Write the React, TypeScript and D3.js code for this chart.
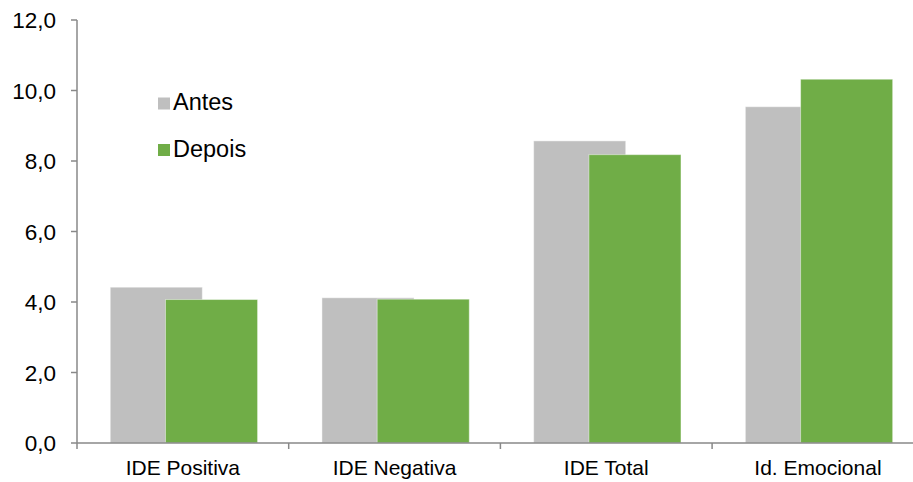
import React from "react";
import * as d3 from "d3";

const categories = ["IDE Positiva", "IDE Negativa", "IDE Total", "Id. Emocional"];
const antes = [4.42, 4.12, 8.57, 9.54];
const depois = [4.07, 4.08, 8.18, 10.32];
const yTicks = [0, 2, 4, 6, 8, 10, 12];
const seriesNames = ["Antes", "Depois"];
const seriesColors = ["#BFBFBF", "#70AD47"];

const W = 913;
const H = 482;
const FONT = "'Liberation Sans', Arial, sans-serif";

export default function App() {
  const x = d3.scaleBand<string>().domain(categories).range([77, 923.8]).padding(0);
  const y = d3.scaleLinear().domain([0, 12]).range([443, 20]);
  const bw = x.bandwidth();
  const barW = bw * 0.435;
  const offsets = [0.157, 0.418];
  const series = [antes, depois];
  const axisColor = "#888888";

  return (
    <svg
      width={W}
      height={H}
      style={{ position: "fixed", left: 0, top: 0, background: "#fff" }}
      fontFamily={FONT}
    >
      {series.map((vals, si) => (
        <g key={si}>
          {categories.map((c, i) => (
            <rect
              key={c}
              x={(x(c) ?? 0) + bw * offsets[si]}
              y={y(vals[i])}
              width={barW}
              height={y(0) - y(vals[i])}
              fill={seriesColors[si]}
              stroke="#ffffff"
              strokeOpacity={0.45}
              strokeWidth={1}
            />
          ))}
        </g>
      ))}

      {/* y axis */}
      <line x1={77} x2={77} y1={y(12)} y2={y(0)} stroke={axisColor} strokeWidth={1.5} />
      {yTicks.map((t) => (
        <g key={t}>
          <line x1={71} x2={77} y1={y(t)} y2={y(t)} stroke={axisColor} strokeWidth={1.5} />
          <text
            x={56}
            y={y(t)}
            dy="0.36em"
            textAnchor="end"
            fontSize={22.5}
            fill="#000"
          >
            {d3.format(".1f")(t).replace(".", ",")}
          </text>
        </g>
      ))}

      {/* x axis */}
      <line x1={77} x2={W} y1={y(0)} y2={y(0)} stroke={axisColor} strokeWidth={1.5} />
      {categories.map((c) => (
        <line
          key={c}
          x1={x(c) ?? 0}
          x2={x(c) ?? 0}
          y1={y(0)}
          y2={y(0) + 6}
          stroke={axisColor}
          strokeWidth={1.5}
        />
      ))}
      {categories.map((c) => (
        <text
          key={c}
          x={(x(c) ?? 0) + bw / 2}
          y={475}
          textAnchor="middle"
          fontSize={21}
          fill="#000"
        >
          {c}
        </text>
      ))}

      {/* legend */}
      {seriesNames.map((n, i) => (
        <g key={n} transform={`translate(158, ${97.5 + i * 46.5})`}>
          <rect x={0} y={0} width={12} height={12} fill={seriesColors[i]} />
          <text x={15} y={12.5} fontSize={23.5} fill="#000">
            {n}
          </text>
        </g>
      ))}
    </svg>
  );
}
